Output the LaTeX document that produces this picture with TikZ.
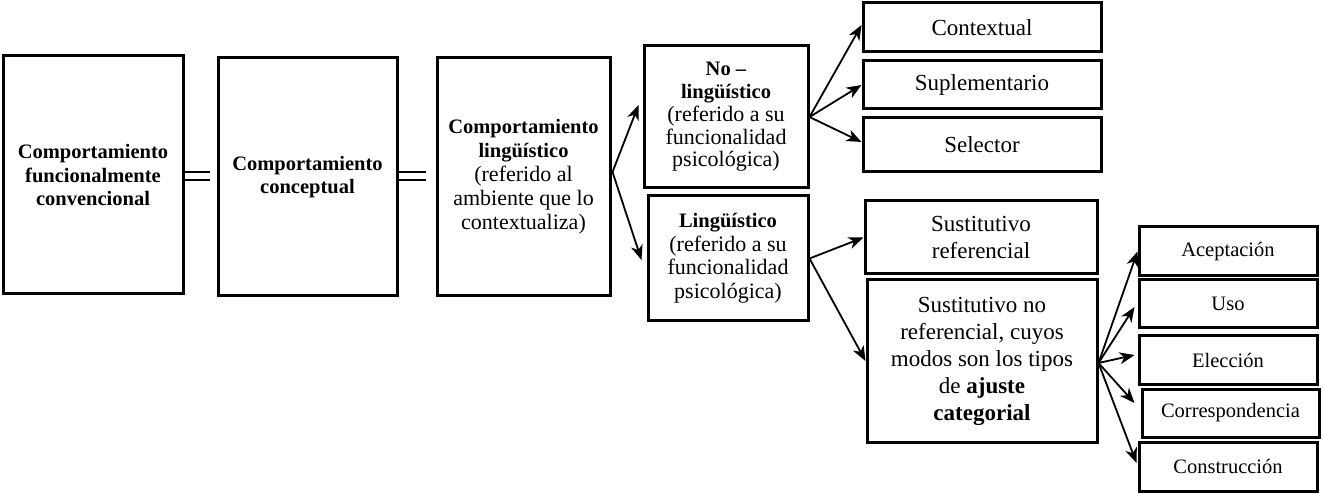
\documentclass[tikz,border=0pt]{standalone}
\usepackage{fontspec}
\setmainfont{Liberation Serif}
\usetikzlibrary{arrows.meta,calc}
\tikzset{
  box/.style={draw, line width=3pt, align=center, inner sep=0pt},
  arr/.style={line width=1.8pt, -{Stealth[length=15pt,width=12pt,inset=4.5pt]}},
  eq/.style={line width=2.4pt}
}
\begin{document}
\begin{tikzpicture}[x=1pt,y=-1pt]
\useasboundingbox (0,0) rectangle (1323,494);
% left column
\node[box, minimum width=180, minimum height=238, font=\bfseries\fontsize{20.5}{23.5}\selectfont] (A) at (93,175) {Comportamiento\\funcionalmente\\convencional};
\node[box, minimum width=179, minimum height=238, font=\bfseries\fontsize{20.5}{22.5}\selectfont] (B) at (307.5,177) {Comportamiento\\conceptual};
\node[box, minimum width=173, minimum height=238, font=\fontsize{22}{24}\selectfont] (C) at (523.5,177) {\textbf{\fontsize{20.5}{24}\selectfont Comportamiento}\\\textbf{\fontsize{20.5}{24}\selectfont lingüístico}\\(referido al\\ambiente que lo\\contextualiza)};
% middle
\node[box, minimum width=164, minimum height=142, font=\fontsize{22}{22.75}\selectfont] (D) at (726,117) {\textbf{\fontsize{20.5}{22.75}\selectfont No –}\\\textbf{\fontsize{20.5}{22.75}\selectfont lingüístico}\\(referido a su\\funcionalidad\\psicológica)};
\node[box, minimum width=160, minimum height=125, font=\fontsize{22}{23.5}\selectfont] (E) at (728,258.5) {\textbf{\fontsize{20.5}{23.5}\selectfont Lingüístico}\\(referido a su\\funcionalidad\\psicológica)};
% right
\node[box, minimum width=238, minimum height=49, font=\fontsize{23}{26}\selectfont] (Ctx) at (982,27.5) {Contextual};
\node[box, minimum width=238, minimum height=48, font=\fontsize{23}{26}\selectfont] (Sup) at (982,85) {Suplementario};
\node[box, minimum width=238, minimum height=54, font=\fontsize{23}{26}\selectfont] (Sel) at (982,145) {Selector};
\node[box, minimum width=232, minimum height=73, font=\fontsize{23}{26.7}\selectfont] (SR) at (981,237.5) {Sustitutivo\\referencial};
\node[box, minimum width=230, minimum height=162, font=\fontsize{23}{27}\selectfont] (SNR) at (982,361) {Sustitutivo no\\referencial, cuyos\\modos son los tipos\\de \textbf{ajuste}\\\textbf{categorial}};
% far right
\node[box, minimum width=178, minimum height=49, font=\fontsize{20.5}{24}\selectfont] (Ace) at (1228,251.5) {Aceptación};
\node[box, minimum width=178, minimum height=48, font=\fontsize{20.5}{24}\selectfont] (Uso) at (1228,304) {Uso};
\node[box, minimum width=178, minimum height=48, font=\fontsize{20.5}{24}\selectfont] (Ele) at (1228,360) {Elección};
\node[box, minimum width=177, minimum height=48, font=\fontsize{20.5}{24}\selectfont] (Cor) at (1230.5,413) {Correspondencia};
\node[box, minimum width=178, minimum height=49, font=\fontsize{20.5}{24}\selectfont] (Con) at (1228,466.5) {Construcción};
% equals signs
\draw[eq] ([shift={(0,-3)}]A.east) -- ([shift={(-7,-5)}]B.west);
\draw[eq] ([shift={(0,5)}]A.east) -- ([shift={(-7,3)}]B.west);
\draw[eq] ([shift={(0,-5)}]B.east) -- ([shift={(-10,-5)}]C.west);
\draw[eq] ([shift={(0,3)}]B.east) -- ([shift={(-10,3)}]C.west);
% arrows
\draw[arr] ([shift={(1,-5)}]C.east) -- ([shift={(-4,-12)}]D.west);
\draw[arr] ([shift={(1,-5)}]C.east) -- ([shift={(-5,1.5)}]E.west);
\draw[arr] (D.east) -- ([shift={(0,-2.5)}]Ctx.west);
\draw[arr] (D.east) -- (Sup.west);
\draw[arr] (D.east) -- ([shift={(0,-3)}]Sel.west);
\draw[arr] (E.east) -- (SR.west);
\draw[arr] (E.east) -- (SNR.west);
\draw[arr] ([shift={(0,2)}]SNR.east) -- (Ace.west);
\draw[arr] ([shift={(0,2)}]SNR.east) -- ([shift={(-3,3)}]Uso.west);
\draw[arr] ([shift={(0,2)}]SNR.east) -- ([shift={(-3,-5)}]Ele.west);
\draw[arr] ([shift={(0,2)}]SNR.east) -- ([shift={(-6,-10)}]Cor.west);
\draw[arr] ([shift={(0,2)}]SNR.east) -- ([shift={(-1,-3.5)}]Con.west);
\end{tikzpicture}
\end{document}
